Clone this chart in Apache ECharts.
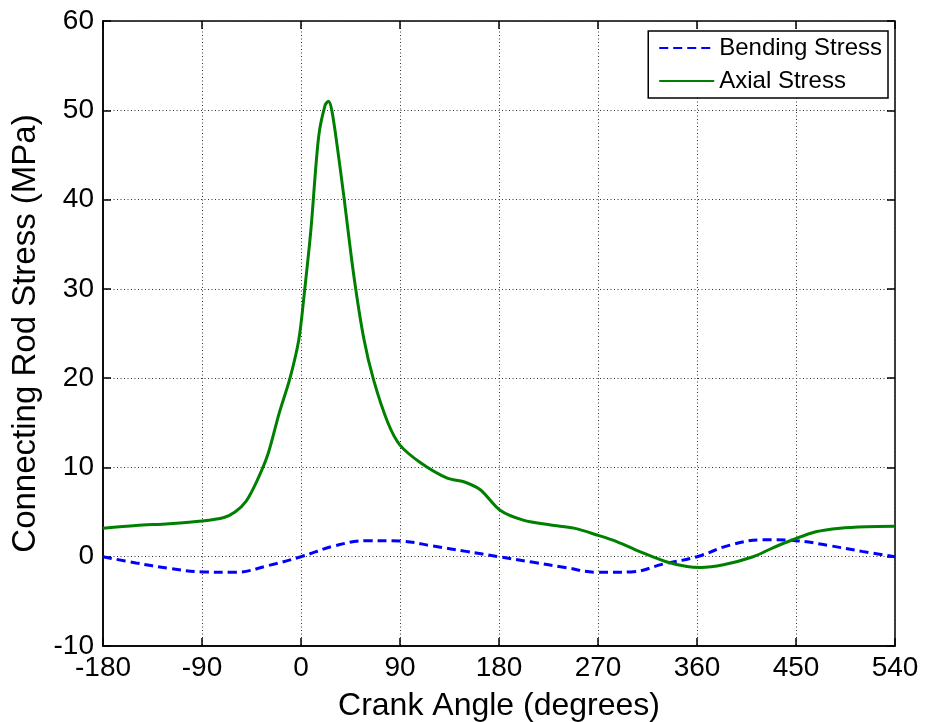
<!DOCTYPE html>
<html>
<head>
<meta charset="utf-8">
<script src="https://cdn.jsdelivr.net/npm/echarts@6/dist/echarts.min.js"></script>
<style>
  html, body { margin: 0; padding: 0; background: #fff; }
  #main { width: 927px; height: 722px; }
</style>
</head>
<body>
<div id="main"></div>
<script>
// crank angle (deg) and stress (MPa)
var bendAngle = [-180, -150, -120, -90, -60, -30, 0, 30, 60, 90, 120, 150, 180, 210, 240, 270, 300, 330, 360, 390, 420, 450, 480, 510, 540];
var bendStress = [0, -0.7, -1.3, -1.7, -1.75, -1.0, 0, 1.2, 1.8, 1.75, 1.2, 0.6, 0, -0.6, -1.2, -1.75, -1.7, -0.8, 0, 1.3, 1.9, 1.8, 1.25, 0.6, 0];

var axialAngle = [-180, -150, -120, -90, -70, -60, -50, -40, -30, -20, -10, -2, 3, 9, 16, 22, 25, 28, 33, 39, 48, 57, 66, 79, 90, 109, 133, 148, 163, 181, 202, 227, 248, 270, 287, 308, 332, 351, 363, 384, 411, 429, 447, 468, 490, 514, 540];
var axialStress = [3.2, 3.5, 3.7, 4.0, 4.4, 5.0, 6.2, 8.5, 11.5, 16, 20, 24.3, 29.5, 36.6, 47, 50.6, 51, 50, 45.9, 40.3, 31.5, 24.5, 19.8, 15, 12.5, 10.5, 8.8, 8.4, 7.5, 5.2, 4.1, 3.55, 3.2, 2.4, 1.7, 0.56, -0.56, -1.1, -1.2, -0.9, 0, 1.0, 1.9, 2.8, 3.2, 3.36, 3.4];

var xTicks = [-180, 540, 90];
var yTicks = [-10, 60, 10];

function pairs(xs, ys) {
    var out = [];
    for (var i = 0; i < xs.length; i++) out.push([xs[i], ys[i]]);
    return out;
}

var font = 'Liberation Sans';
var dotted = { show: true, lineStyle: { color: '#333', type: [1, 2.5], width: 1 } };
var tick = { show: true, inside: true, length: 8, lineStyle: { color: '#000', width: 1.5 } };

var myChart = echarts.init(document.getElementById('main'));
var option = {
    backgroundColor: '#fff',
    animation: false,
    textStyle: { fontFamily: font },
    grid: {
        left: 103, right: 32, top: 21, bottom: 76,
        containLabel: false, outerBoundsMode: 'none',
        show: true, borderColor: '#000', borderWidth: 1.5
    },
    legend: {
        orient: 'vertical',
        right: 39, top: 31,
        itemWidth: 55, itemHeight: 20, itemGap: 9,
        padding: [5, 6, 5, 10],
        borderColor: '#000', borderWidth: 1.5,
        backgroundColor: '#fff',
        itemStyle: { opacity: 0 },
        textStyle: { fontFamily: font, fontSize: 24, color: '#000' },
        data: ['Bending Stress', 'Axial Stress']
    },
    xAxis: [{
        type: 'value', min: xTicks[0], max: xTicks[1], interval: xTicks[2],
        name: 'Crank Angle (degrees)', nameLocation: 'middle', nameGap: 44,
        nameTextStyle: { fontSize: 32, color: '#000', fontFamily: font },
        axisLine: { show: true, onZero: false, lineStyle: { color: '#000', width: 1.5 } },
        axisTick: tick,
        axisLabel: { fontSize: 28, color: '#000', margin: 8, fontFamily: font },
        splitLine: dotted
    }, {
        type: 'value', position: 'top', min: xTicks[0], max: xTicks[1], interval: xTicks[2],
        axisLine: { show: false, onZero: false },
        axisTick: tick,
        axisLabel: { show: false }, splitLine: { show: false }
    }],
    yAxis: [{
        type: 'value', min: yTicks[0], max: yTicks[1], interval: yTicks[2],
        name: 'Connecting Rod Stress (MPa)', nameLocation: 'middle', nameGap: 56,
        nameTextStyle: { fontSize: 33, color: '#000', fontFamily: font },
        axisLine: { show: true, onZero: false, lineStyle: { color: '#000', width: 1.5 } },
        axisTick: tick,
        axisLabel: { fontSize: 28, color: '#000', margin: 9, fontFamily: font },
        splitLine: dotted
    }, {
        type: 'value', position: 'right', min: yTicks[0], max: yTicks[1], interval: yTicks[2],
        axisLine: { show: false, onZero: false },
        axisTick: tick,
        axisLabel: { show: false }, splitLine: { show: false }
    }],
    series: [
        {
            name: 'Bending Stress',
            type: 'line',
            data: pairs(bendAngle, bendStress),
            smooth: 0.4,
            symbol: 'none',
            color: '#0000ff',
            lineStyle: { color: '#0000ff', width: 3, type: [9, 5] }
        },
        {
            name: 'Axial Stress',
            type: 'line',
            data: pairs(axialAngle, axialStress),
            smooth: 0.3,
            symbol: 'none',
            color: '#008000',
            lineStyle: { color: '#008000', width: 3 }
        }
    ]
};
myChart.setOption(option);
</script>
</body>
</html>
